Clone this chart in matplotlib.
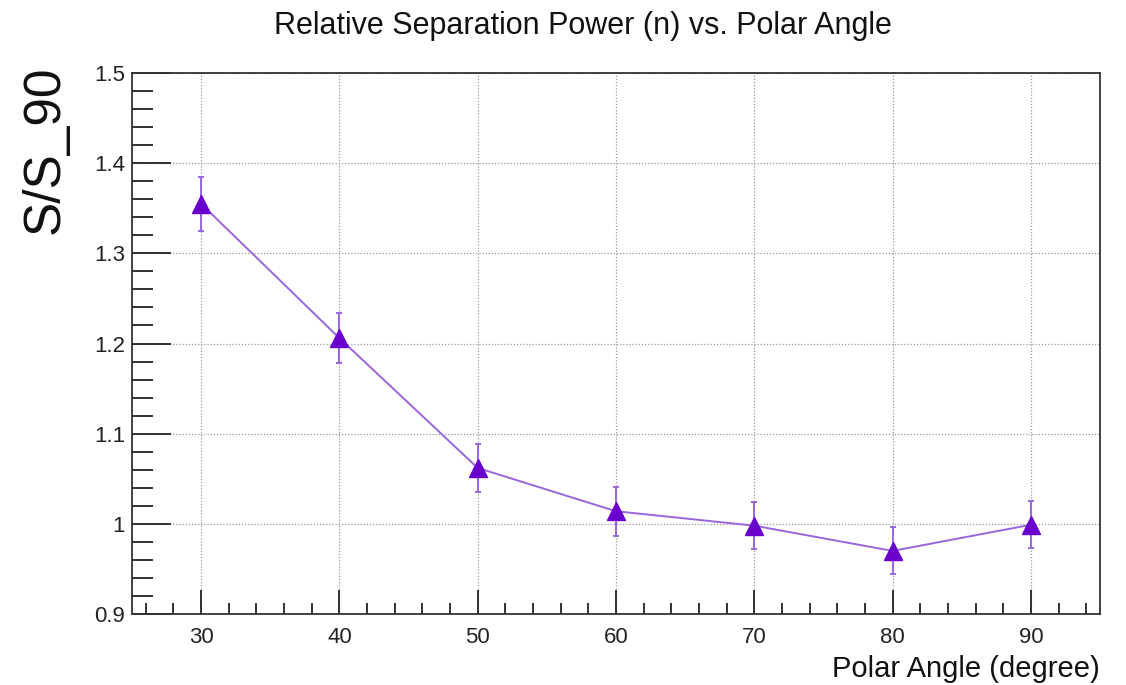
import numpy as np
import matplotlib
matplotlib.use("Agg")
import matplotlib.pyplot as plt
from matplotlib.ticker import MultipleLocator, FuncFormatter

plt.rcParams['font.family'] = ['Liberation Sans', 'DejaVu Sans']

angle = [30, 40, 50, 60, 70, 80, 90]
ratio = [1.355, 1.206, 1.062, 1.014, 0.998, 0.970, 0.999]
ratio_err = [0.030, 0.028, 0.027, 0.027, 0.026, 0.026, 0.026]

fig = plt.figure(figsize=(11.26, 6.85), dpi=100)
ax = fig.add_axes([0.1172, 0.1036, 0.8597, 0.7898])

ax.plot(angle, ratio, color='#9966dd', lw=1.4, zorder=2)
ax.errorbar(angle, ratio, yerr=ratio_err, fmt='none', ecolor='#9966dd',
            elinewidth=1.4, capsize=2.5, capthick=1.4, zorder=3)
ax.plot(angle, ratio, ls='none', marker='^', ms=13, color='#6a00cc', zorder=4)

ax.set_xlim(25, 95)
ax.set_ylim(0.9, 1.5)
ax.xaxis.set_major_locator(MultipleLocator(10))
ax.xaxis.set_minor_locator(MultipleLocator(2))
ax.yaxis.set_major_locator(MultipleLocator(0.1))
ax.yaxis.set_minor_locator(MultipleLocator(0.02))
ax.yaxis.set_major_formatter(FuncFormatter(lambda v, p: f'{v:g}'))

ax.tick_params(which='both', direction='in', top=False, right=False,
               labelsize=16, colors='#222222', width=1.3)
ax.tick_params(axis='y', which='major', length=28, pad=5)
ax.tick_params(axis='y', which='minor', length=15)
ax.tick_params(axis='x', which='major', length=17, pad=9)
ax.tick_params(axis='x', which='minor', length=8)

ax.grid(True, which='major', ls=(0, (1, 1.5)), color='#999999', lw=0.9)
for s in ax.spines.values():
    s.set_color('#333333')
    s.set_linewidth(1.3)

fig.text(0.518, 0.962, 'Relative Separation Power (n) vs. Polar Angle',
         ha='center', va='center', fontsize=22, color='#111111')
fig.text(0.040, 0.782, 'S/S_90', rotation=90, ha='center', va='center',
         fontsize=37, color='#111111')
fig.text(0.977, 0.024, 'Polar Angle (degree)', ha='right', va='center',
         fontsize=21, color='#111111')

fig.savefig('out.png', dpi=100)
